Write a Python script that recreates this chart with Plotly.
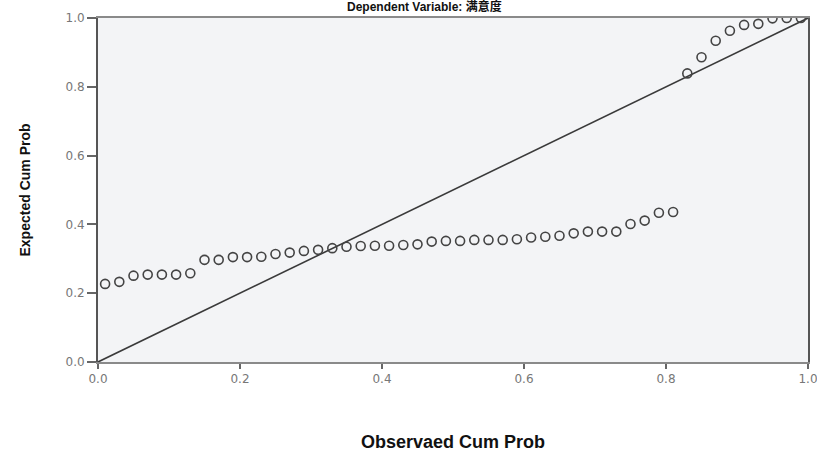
import plotly.graph_objects as go

observed_cum_prob = [
    0.01, 0.03, 0.05, 0.07, 0.09, 0.11, 0.13, 0.15, 0.17, 0.19,
    0.21, 0.23, 0.25, 0.27, 0.29, 0.31, 0.33, 0.35, 0.37, 0.39,
    0.41, 0.43, 0.45, 0.47, 0.49, 0.51, 0.53, 0.55, 0.57, 0.59,
    0.61, 0.63, 0.65, 0.67, 0.69, 0.71, 0.73, 0.75, 0.77, 0.79,
    0.81, 0.83, 0.85, 0.87, 0.89, 0.91, 0.93, 0.95, 0.97, 0.99,
]
expected_cum_prob = [
    0.227, 0.233, 0.251, 0.254, 0.254, 0.254, 0.258, 0.297, 0.297, 0.305,
    0.305, 0.306, 0.314, 0.318, 0.323, 0.326, 0.331, 0.335, 0.337, 0.338,
    0.338, 0.340, 0.342, 0.350, 0.352, 0.352, 0.355, 0.355, 0.355, 0.357,
    0.362, 0.364, 0.367, 0.374, 0.379, 0.379, 0.379, 0.401, 0.411, 0.434,
    0.436, 0.839, 0.886, 0.934, 0.963, 0.980, 0.983, 0.999, 1.000, 1.000,
]
diagonal = [0.0, 1.0]
tick_values = [0.0, 0.2, 0.4, 0.6, 0.8, 1.0]
tick_labels = ["0.0", "0.2", "0.4", "0.6", "0.8", "1.0"]

fig = go.Figure()
fig.add_trace(go.Scatter(
    x=diagonal, y=diagonal, mode="lines",
    line=dict(color="#3a3a3a", width=1.6),
    showlegend=False, hoverinfo="skip",
))
fig.add_trace(go.Scatter(
    x=observed_cum_prob, y=expected_cum_prob, mode="markers",
    marker=dict(symbol="circle-open", size=9, color="#444444",
                line=dict(width=1.6, color="#444444")),
    showlegend=False,
))

fig.add_annotation(
    text="<b>Dependent Variable: 满意度</b>",
    xref="paper", yref="paper", x=0.46, y=1,
    xanchor="center", yanchor="bottom", yshift=2,
    showarrow=False,
    font=dict(family="Liberation Sans, Arial, Noto Sans CJK SC", size=12, color="#111111"),
)

fig.update_layout(
    width=832, height=461,
    margin=dict(l=98, r=24, t=18, b=99),
    paper_bgcolor="white",
    plot_bgcolor="#f3f4f6",
    font=dict(family="DejaVu Sans", size=12, color="#777777"),
    xaxis=dict(
        range=[0, 1], tickvals=tick_values, ticktext=tick_labels,
        automargin=False,
        showgrid=False, zeroline=False,
        showline=True, linecolor="#8a8a8a", linewidth=2, mirror=True,
        ticks="outside", ticklen=5, tickwidth=2, tickcolor="#666666",
        tickfont=dict(family="DejaVu Sans", size=12, color="#777777"),
        title=dict(text="<b>Observaed Cum Prob</b>", standoff=50,
                   font=dict(family="Liberation Sans, Arial", size=18, color="#111111")),
    ),
    yaxis=dict(
        range=[0, 1], tickvals=tick_values, ticktext=tick_labels,
        automargin=False,
        showgrid=False, zeroline=False,
        showline=True, linecolor="#555555", linewidth=2, mirror=True,
        ticks="outside", ticklen=9, tickwidth=1.5, tickcolor="#666666",
        tickfont=dict(family="DejaVu Sans", size=12, color="#777777"),
        title=dict(text="<b>Expected Cum Prob</b>", standoff=32,
                   font=dict(family="Liberation Sans, Arial", size=14, color="#111111")),
    ),
)

fig.write_html(
    "out.html",
    config={"displayModeBar": False},
    post_script="document.body.style.margin='0';document.body.style.overflow='hidden';",
)
